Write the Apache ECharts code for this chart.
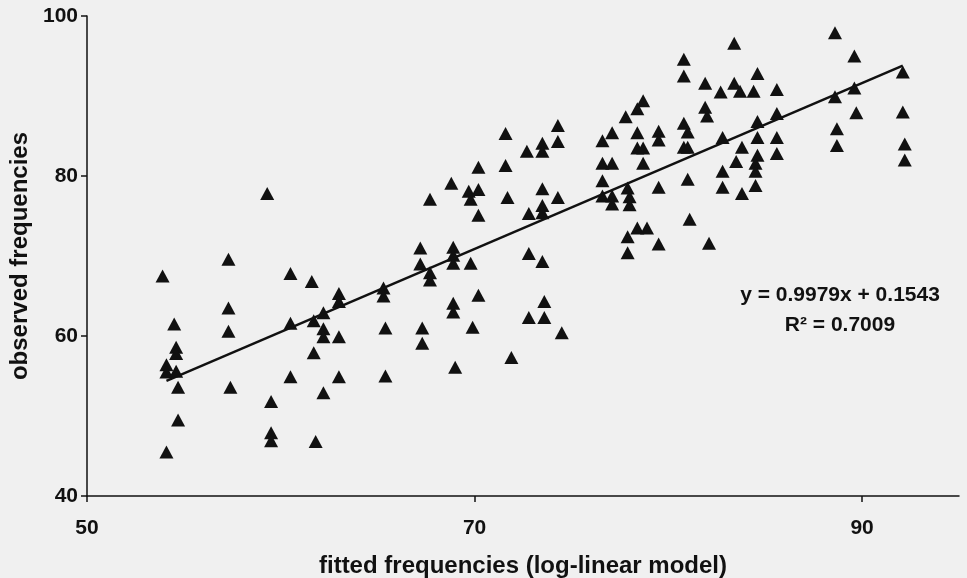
<!DOCTYPE html>
<html>
<head>
<meta charset="utf-8">
<title>observed vs fitted frequencies</title>
<script src="https://cdn.jsdelivr.net/npm/echarts@6/dist/echarts.min.js"></script>
<style>
  html, body { margin: 0; padding: 0; background: #f0f0f0; }
  #chart { width: 967px; height: 578px; }
</style>
</head>
<body>
<div id="chart"></div>
<script>
// fitted (x) and observed (y) frequencies
const fittedX = [
  53.9, 57.3, 59.3, 60.5, 61.6, 63.0, 63.0, 65.3, 65.3, 57.3,
  57.3, 54.5, 54.6, 54.6, 54.1, 54.1, 54.6, 60.5, 61.7, 62.2,
  62.2, 62.2, 63.0, 65.4, 61.7, 54.7, 57.4, 60.5, 63.0, 65.4,
  62.2, 59.5, 54.7, 59.5, 59.5, 61.8, 54.1,
  74.3, 71.6, 74.3, 72.7, 73.5, 73.5, 70.2, 71.6, 68.8, 69.7,
  70.2, 69.8, 67.7, 71.7, 73.5, 74.3, 73.5, 73.5, 72.8, 70.2,
  67.2, 68.9, 68.9, 68.9, 67.2, 67.7, 67.7, 69.8, 72.8, 73.5,
  68.9, 68.9, 70.2, 73.6, 72.8, 73.6, 74.5, 67.3, 67.3, 69.9,
  71.9, 69.0,
  83.4, 80.8, 80.8, 84.6, 81.9, 82.7, 83.4, 83.7, 84.4, 78.7,
  78.4, 77.8, 81.9, 82.0, 77.1, 76.6, 78.4, 79.5, 79.5, 80.8,
  81.0, 84.6, 82.8, 84.6, 78.4, 78.7, 80.8, 81.0, 83.8, 78.7,
  76.6, 77.1, 83.5, 84.6, 84.5, 84.5, 82.8, 76.6, 81.0, 79.5,
  82.8, 84.5, 83.8, 76.6, 77.1, 77.1, 77.9, 78.0, 78.0, 81.1,
  78.4, 78.9, 77.9, 79.5, 82.1, 77.9,
  88.6, 89.6, 85.6, 92.1, 89.6, 88.6, 85.6, 89.7, 92.1, 88.7,
  88.7, 85.6, 85.6, 92.2, 92.2
];
const observedY = [
  67.5, 69.6, 77.8, 67.8, 66.8, 65.3, 64.3, 66.0, 65.0, 63.5,
  60.6, 61.5, 58.6, 57.8, 56.4, 55.5, 55.6, 61.6, 61.9, 62.9,
  60.9, 59.9, 59.9, 61.0, 57.9, 53.6, 53.6, 54.9, 54.9, 55.0,
  52.9, 51.8, 49.5, 47.9, 46.9, 46.8, 45.5,
  86.3, 85.3, 84.3, 83.1, 84.1, 83.1, 81.1, 81.3, 79.1, 78.1,
  78.3, 77.1, 77.1, 77.3, 78.4, 77.3, 76.3, 75.4, 75.3, 75.1,
  71.0, 71.1, 70.1, 69.1, 69.0, 67.9, 67.0, 69.1, 70.3, 69.3,
  64.1, 63.0, 65.1, 64.3, 62.3, 62.3, 60.4, 61.0, 59.1, 61.1,
  57.3, 56.1,
  96.6, 94.6, 92.5, 92.8, 91.6, 90.5, 91.6, 90.6, 90.6, 89.4,
  88.4, 87.4, 88.6, 87.5, 85.4, 84.4, 85.4, 85.6, 84.5, 86.6,
  85.5, 86.8, 84.8, 84.8, 83.5, 83.5, 83.6, 83.6, 83.6, 81.6,
  81.6, 81.6, 81.8, 82.6, 81.6, 80.6, 80.6, 79.4, 79.6, 78.6,
  78.6, 78.8, 77.8, 77.5, 77.5, 76.5, 78.5, 77.4, 76.4, 74.6,
  73.5, 73.5, 72.4, 71.5, 71.6, 70.4,
  97.9, 95.0, 90.8, 93.0, 91.0, 89.9, 87.8, 87.9, 88.0, 85.9,
  83.8, 84.8, 82.8, 84.0, 82.0
];

// linear trendline, end points as drawn in the picture
const trendX = [54.1, 92.1];
const trendY = [54.4, 93.8];

const xTicks = [50, 70, 90];
const equationLines = ['y = 0.9979x + 0.1543', 'R\u00b2 = 0.7009'];

const ink = '#111';
const font = 'Liberation Sans';

const chartInstance = echarts.init(document.getElementById('chart'), null, { renderer: 'canvas' });

const points = fittedX.map((x, i) => [x, observedY[i]]);
const trend = trendX.map((x, i) => [x, trendY[i]]);

chartInstance.setOption({
  animation: false,
  backgroundColor: '#f0f0f0',
  // fixed plot box, labels sit outside it
  grid: { left: 87, right: 8, top: 16, bottom: 82, outerBoundsMode: 'none', containLabel: false },
  xAxis: {
    type: 'value',
    min: 50,
    max: 95,
    name: 'fitted frequencies (log-linear model)',
    nameLocation: 'middle',
    nameGap: 58,
    nameTextStyle: { color: ink, fontFamily: font, fontWeight: 'bold', fontSize: 24 },
    axisLine: { lineStyle: { color: ink, width: 1.5 } },
    axisTick: { show: true, inside: false, length: 6, lineStyle: { color: ink, width: 1.5 }, customValues: xTicks },
    axisLabel: { color: ink, fontFamily: font, fontWeight: 'bold', fontSize: 21, margin: 22, customValues: xTicks },
    splitLine: { show: false }
  },
  yAxis: {
    type: 'value',
    min: 40,
    max: 100,
    interval: 20,
    name: 'observed frequencies',
    nameLocation: 'middle',
    nameGap: 54,
    nameTextStyle: { color: ink, fontFamily: font, fontWeight: 'bold', fontSize: 24 },
    axisLine: { show: true, lineStyle: { color: ink, width: 1.5 } },
    axisTick: { show: true, inside: false, length: 6, lineStyle: { color: ink, width: 1.5 } },
    axisLabel: { color: ink, fontFamily: font, fontWeight: 'bold', fontSize: 21, margin: 9 },
    splitLine: { show: false }
  },
  series: [
    {
      type: 'scatter',
      data: points,
      symbol: 'triangle',
      symbolSize: [14, 13],
      itemStyle: { color: ink, opacity: 1 }
    },
    {
      type: 'line',
      data: trend,
      symbol: 'none',
      lineStyle: { color: ink, width: 2.5 },
      z: 3
    }
  ],
  graphic: equationLines.map((line, i) => ({
    type: 'text',
    x: 840,
    y: 295 + i * 30,
    style: {
      text: line,
      textAlign: 'center',
      textVerticalAlign: 'middle',
      fill: ink,
      font: 'bold 21px "' + font + '"'
    }
  }))
});
</script>
</body>
</html>
